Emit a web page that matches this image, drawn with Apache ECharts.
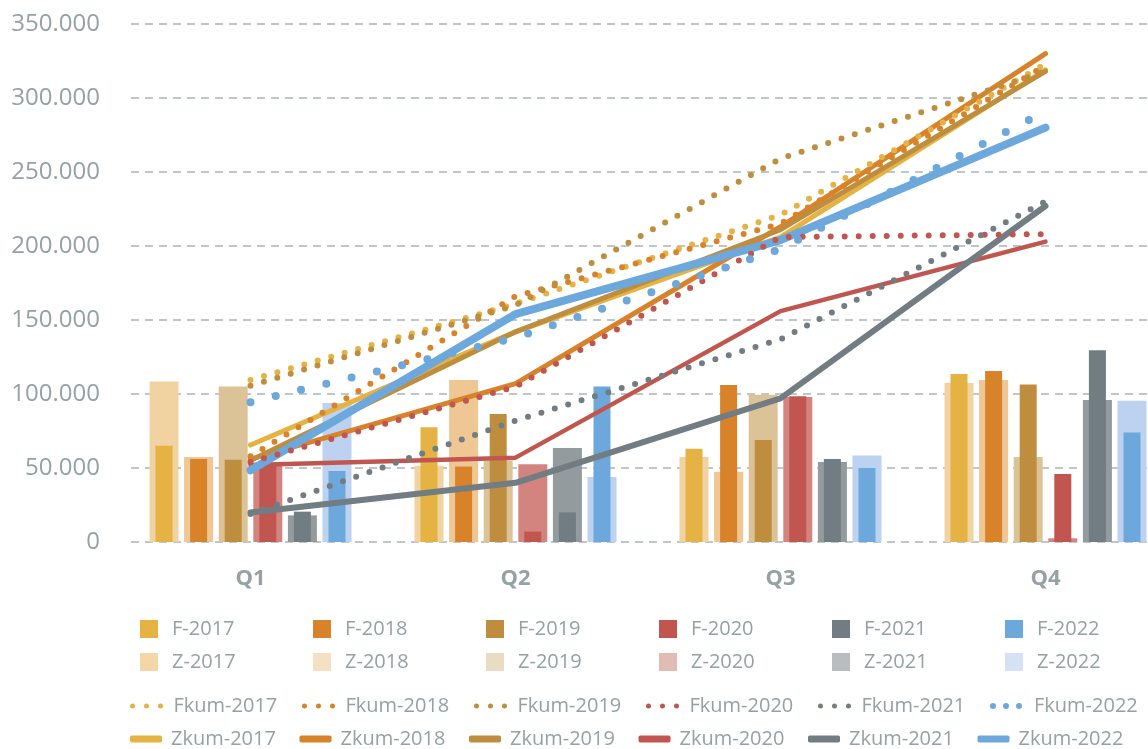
<!DOCTYPE html>
<html>
<head>
<meta charset="utf-8">
<script src="https://cdn.jsdelivr.net/npm/echarts@6/dist/echarts.min.js"></script>
<style>
html, body { margin: 0; padding: 0; background: #fff; }
#chart { width: 1148px; height: 749px; }
</style>
</head>
<body>
<div id="chart"></div>
<script>
var quarters = ['Q1', 'Q2', 'Q3', 'Q4'];
var years = ['2017', '2018', '2019', '2020', '2021', '2022'];
var yTicks = [0, 50000, 100000, 150000, 200000, 250000, 300000, 350000];

// F bars (narrow, front)
var f2017 = [65000, 77500, 63000, 113500];
var f2018 = [56000, 51000, 106000, 115500];
var f2019 = [55500, 86500, 69000, 106500];
var f2020 = [53000, 7000, 98500, 46000];
var f2021 = [20500, 20000, 56000, 129500];
var f2022 = [48000, 105000, 50000, 74000];

// Z bars (wide, behind)
var z2017 = [108500, 51500, 57500, 107500];
var z2018 = [57500, 109500, 47500, 109500];
var z2019 = [105000, 55000, 99500, 57500];
var z2020 = [52000, 52500, 98000, 2500];
var z2021 = [18000, 63500, 54000, 96000];
var z2022 = [94000, 44000, 58500, 95500];

// dotted lines
var fkum2017 = [109500, 161000, 221000, 323000];
var fkum2018 = [58000, 166000, 215000, 322000];
var fkum2019 = [105500, 160000, 259000, 318000];
var fkum2020 = [54000, 105000, 206000, 208000];
var fkum2021 = [19000, 82000, 137000, 230000];
var fkum2022 = [94500, 138000, 198000, 291000];

// solid lines
var zkum2017 = [65500, 142000, 206000, 319000];
var zkum2018 = [56000, 107000, 213000, 330000];
var zkum2019 = [55000, 142000, 211000, 318000];
var zkum2020 = [52000, 57000, 156000, 203000];
var zkum2021 = [20000, 40000, 97000, 227000];
var zkum2022 = [48500, 154000, 204000, 280000];

var fData = [f2017, f2018, f2019, f2020, f2021, f2022];
var zData = [z2017, z2018, z2019, z2020, z2021, z2022];
var fkumData = [fkum2017, fkum2018, fkum2019, fkum2020, fkum2021, fkum2022];
var zkumData = [zkum2017, zkum2018, zkum2019, zkum2020, zkum2021, zkum2022];

var colorsF = ['#E5B244', '#D8832A', '#BE8E3E', '#C0564F', '#717D82', '#6DA8DC'];
var colorsZ = ['#F0D3A0', '#EEC794', '#DCC397', '#D4847F', '#939B9E', '#BCD2F0'];
var colorsZLegend = ['#F3D7A6', '#F6E0C2', '#EADCC3', '#E2BBB3', '#B9BDC0', '#D5E2F5'];
var zkumWidth = [5, 5, 5, 4.5, 6, 8];

var textColor = '#95A1A4';
var font = 'Open Sans';

var series = [];
// Z bars first (behind)
years.forEach(function (y, i) {
    series.push({
        name: 'Z-' + y,
        type: 'bar',
        xAxisIndex: 0,
        yAxisIndex: 0,
        barWidth: 29,
        barGap: '19.3%',
        itemStyle: { color: colorsZ[i] },
        data: zData[i]
    });
});
// F bars on top
years.forEach(function (y, i) {
    series.push({
        name: 'F-' + y,
        type: 'bar',
        xAxisIndex: 1,
        yAxisIndex: 0,
        barWidth: 17,
        barGap: '103.5%',
        itemStyle: { color: colorsF[i] },
        data: fData[i]
    });
});
// solid cumulative lines
years.forEach(function (y, i) {
    series.push({
        name: 'Zkum-' + y,
        type: 'line',
        xAxisIndex: 0,
        yAxisIndex: 0,
        symbol: 'none',
        itemStyle: { color: colorsF[i] },
        lineStyle: { color: colorsF[i], width: zkumWidth[i], cap: 'round', join: 'round' },
        data: zkumData[i]
    });
});
// dotted cumulative lines
years.forEach(function (y, i) {
    var big = i === 5;
    series.push({
        name: 'Fkum-' + y,
        type: 'line',
        xAxisIndex: 0,
        yAxisIndex: 0,
        symbol: 'none',
        itemStyle: { color: colorsF[i] },
        lineStyle: {
            color: colorsF[i],
            width: big ? 8 : 6,
            type: big ? [0, 26] : [0, 14],
            cap: 'round'
        },
        data: fkumData[i]
    });
});

function legendRow(names, top, left, opts) {
    return Object.assign({
        top: top,
        left: left,
        width: 1140,
        padding: 0,
        orient: 'horizontal',
        selectedMode: false,
        itemGap: 11,
        data: names
    }, opts);
}

var yMin = yTicks[0];
var yMax = yTicks[yTicks.length - 1];
var yStep = yTicks[1] - yTicks[0];

var option = {
    animation: false,
    grid: [
        // data grid (category bands)
        { left: 118, right: -30, top: 24, bottom: 207, outerBoundsMode: 'none' },
        // grid carrying the y labels and dashed lines
        { left: 131, right: 0, top: 24, bottom: 207, outerBoundsMode: 'none' }
    ],
    xAxis: [
        {
            type: 'category',
            gridIndex: 0,
            data: quarters,
            axisLine: { show: false },
            axisTick: { show: false },
            axisLabel: { color: textColor, fontFamily: font, fontSize: 22, fontWeight: 'bold', margin: 26 }
        },
        { type: 'category', gridIndex: 0, data: quarters, show: false },
        { type: 'category', gridIndex: 1, data: quarters, show: false }
    ],
    yAxis: [
        {
            type: 'value', gridIndex: 0, min: yMin, max: yMax, interval: yStep,
            axisLine: { show: false }, axisTick: { show: false },
            axisLabel: { show: false }, splitLine: { show: false }
        },
        {
            type: 'value', gridIndex: 1, min: yMin, max: yMax, interval: yStep,
            axisLine: { show: false },
            axisTick: { show: false },
            axisLabel: {
                color: textColor, fontFamily: font, fontSize: 24, margin: 31,
                formatter: function (v) { return v === 0 ? '0' : (v / 1000) + '.000'; }
            },
            splitLine: { lineStyle: { color: '#ABB4B7', width: 1.5, type: [8, 6] } }
        }
    ],
    legend: [
        legendRow(years.map(function (y) { return 'F-' + y; }), 619, 140, {
            icon: 'rect', itemWidth: 18, itemHeight: 18,
            textStyle: { fontFamily: font, fontSize: 20, color: textColor, lineHeight: 20, width: 130, padding: [0, 0, 0, 9] }
        }),
        legendRow(years.map(function (y, i) { return { name: 'Z-' + y, itemStyle: { color: colorsZLegend[i] } }; }), 652, 140, {
            icon: 'rect', itemWidth: 18, itemHeight: 18,
            textStyle: { fontFamily: font, fontSize: 20, color: textColor, lineHeight: 20, width: 130, padding: [0, 0, 0, 9] }
        }),
        legendRow(years.map(function (y, i) {
            return i === 5 ? { name: 'Fkum-' + y, lineStyle: { type: [0, 13], width: 6 } } : 'Fkum-' + y;
        }), 696, 130, {
            itemWidth: 34, itemHeight: 18, itemGap: 8.5,
            itemStyle: { opacity: 0 },
            lineStyle: { width: 5 },
            textStyle: { fontFamily: font, fontSize: 20, color: textColor, lineHeight: 20, width: 120, padding: [0, 0, 0, 2] }
        }),
        legendRow(years.map(function (y) { return 'Zkum-' + y; }), 729, 130, {
            icon: 'roundRect', itemWidth: 32, itemHeight: 7, itemGap: 8.5,
            textStyle: { fontFamily: font, fontSize: 20, color: textColor, lineHeight: 20, width: 120, padding: [0, 0, 0, 4] }
        })
    ],
    series: series
};

var chart = echarts.init(document.getElementById('chart'));
chart.setOption(option);
</script>
</body>
</html>
